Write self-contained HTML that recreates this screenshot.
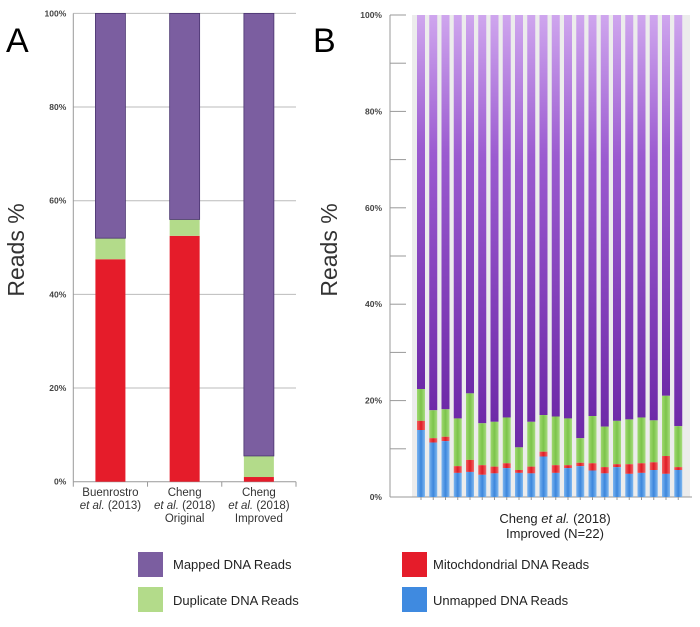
<!DOCTYPE html>
<html><head><meta charset="utf-8"><style>
body{margin:0;background:#fff;width:700px;height:622px;overflow:hidden;font-family:"Liberation Sans",sans-serif}
</style></head><body>
<svg id="c" width="700" height="622" xmlns="http://www.w3.org/2000/svg">
<defs>
<linearGradient id="gp" x1="0" y1="0" x2="0" y2="1"><stop offset="0" stop-color="#cfa6ee"/><stop offset="0.35" stop-color="#9b5bd0"/><stop offset="1" stop-color="#6e2aa8"/></linearGradient>
<linearGradient id="gg" x1="0" y1="0" x2="1" y2="0"><stop offset="0" stop-color="#9fd870"/><stop offset="0.5" stop-color="#7cc44a"/><stop offset="1" stop-color="#a8dc80"/></linearGradient>
<linearGradient id="gb" x1="0" y1="0" x2="1" y2="0"><stop offset="0" stop-color="#7ab4f0"/><stop offset="0.5" stop-color="#3c86dc"/><stop offset="1" stop-color="#80b8f0"/></linearGradient>
<linearGradient id="gr" x1="0" y1="0" x2="1" y2="0"><stop offset="0" stop-color="#f26060"/><stop offset="0.5" stop-color="#e01b24"/><stop offset="1" stop-color="#f06868"/></linearGradient>
</defs>
<text x="6" y="52" font-size="34">A</text>
<text x="313" y="52" font-size="34">B</text>
<text transform="translate(24,250) rotate(-90)" text-anchor="middle" font-size="23" fill="#333">Reads %</text>
<text transform="translate(337,250) rotate(-90)" text-anchor="middle" font-size="23" fill="#333">Reads %</text>
<g id="ga"></g><g id="gbp"></g>
<g font-size="13" fill="#222">
<rect x="138" y="552" width="25" height="25" fill="#7b5ea0"/>
<text x="173" y="569">Mapped DNA Reads</text>
<rect x="138" y="587" width="25" height="25" fill="#b3db8a"/>
<text x="173" y="605">Duplicate DNA Reads</text>
<rect x="402" y="552" width="25" height="25" fill="#e51c2a"/>
<text x="433" y="569">Mitochdondrial DNA Reads</text>
<rect x="402" y="587" width="25" height="25" fill="#3f8ae0"/>
<text x="433" y="605">Unmapped DNA Reads</text>
</g>
</svg>
<script>
const aCategories=[["Buenrostro","et al. (2013)",""],["Cheng","et al. (2018)","Original"],["Cheng","et al. (2018)","Improved"]];
const aMito=[47.5,52.5,1];
const aDup=[4.5,3.5,4.5];
const aMapped=[48,44,94.5];
const aTicks=["0%","20%","40%","60%","80%","100%"];
const bUnmapped=[13.9,11.3,11.6,5.0,5.2,4.6,4.9,6.0,5.0,4.9,8.4,5.0,6.0,6.4,5.5,4.9,6.2,4.8,5.0,5.6,4.8,5.6];
const bMito=[1.9,0.9,0.9,1.4,2.5,2.0,1.4,1.0,0.6,1.4,1.0,1.6,0.6,0.7,1.5,1.3,0.6,2.0,2.0,1.6,3.7,0.6];
const bDup=[6.6,5.8,5.7,9.9,13.8,8.7,9.3,9.5,4.7,9.3,7.6,10.1,9.7,5.1,9.8,8.4,9.0,9.3,9.5,8.7,12.5,8.5];
const bTicks=["0%","20%","40%","60%","80%","100%"];
const NS="http://www.w3.org/2000/svg";
function mk(p,t,a){const e=document.createElementNS(NS,t);for(const k in a)e.setAttribute(k,a[k]);p.appendChild(e);return e;}
// Panel A
const ga=document.getElementById('ga');
const ay=v=>481.7-v*4.683;
const ax0=73.3,ax1=296,aw=(ax1-ax0)/3;
aTicks.forEach((t,i)=>{const v=i*20;
 const l=mk(ga,'line',{x1:ax0,x2:ax1,y1:ay(v),y2:ay(v),stroke:i==0?'#999':'#bbb','stroke-width':1});
 
 const tx=mk(ga,'text',{x:ax0-7,y:ay(v)+3,'text-anchor':'end','font-size':8.5,fill:'#444','font-weight':'bold'});tx.textContent=t;
 });
const av=mk(ga,'line',{x1:ax0,x2:ax0,y1:ay(100),y2:ay(0),stroke:'#999'});

for(let i=0;i<=3;i++){const t=mk(ga,'line',{x1:ax0+i*aw,x2:ax0+i*aw,y1:ay(0),y2:ay(0)+5,stroke:'#999'});
 }
aCategories.forEach((c,i)=>{const cx=ax0+aw*(i+0.5),x=cx-15,w=30;
 const r1=mk(ga,'rect',{x:x,y:ay(aMito[i]),width:w,height:ay(0)-ay(aMito[i]),fill:'#e51c2a'});
 
 const r2=mk(ga,'rect',{x:x,y:ay(aMito[i]+aDup[i]),width:w,height:ay(aMito[i])-ay(aMito[i]+aDup[i]),fill:'#b3db8a'});
 
 const s=aMito[i]+aDup[i];
 const r3=mk(ga,'rect',{x:x,y:ay(s+aMapped[i]),width:w,height:ay(s)-ay(s+aMapped[i]),fill:'#7b5ea0',stroke:'#4a3470','stroke-width':0.8});
 
 c.forEach((ln,j)=>{if(!ln)return;const t=mk(ga,'text',{x:cx,y:496+j*13,'text-anchor':'middle','font-size':11.5,fill:'#333'});
  if(ln.startsWith('et al.')){const s1=mk(t,'tspan',{'font-style':'italic'});s1.textContent='et al.';const s2=mk(t,'tspan',{});s2.textContent=ln.slice(6);}
  else t.textContent=ln;
  });
});
// Panel B
const gb=document.getElementById('gbp');
const by=v=>497-v*4.82;
const bx0=390,bfirst=421,pitch=12.25,bw=8;
for(let i=0;i<=10;i++){const v=i*10;
 const l=mk(gb,'line',{x1:bx0,x2:bx0+16,y1:by(v),y2:by(v),stroke:'#999'});
 }
bTicks.forEach((t,i)=>{const tx=mk(gb,'text',{x:bx0-8,y:by(i*20)+3,'text-anchor':'end','font-size':8.5,fill:'#444','font-weight':'bold'});tx.textContent=t;
 });
const bv=mk(gb,'line',{x1:bx0,x2:bx0,y1:by(100),y2:by(0),stroke:'#999'});

const bbg=mk(gb,'rect',{x:412,y:by(100),width:278,height:by(0)-by(100),fill:'#ececec'});

const bh=mk(gb,'line',{x1:bx0,x2:692,y1:by(0),y2:by(0),stroke:'#999'});

bUnmapped.forEach((u,i)=>{const x=bfirst+i*pitch-bw/2;const m=bMito[i],d=bDup[i];
 const p=mk(gb,'rect',{x:x,y:by(100),width:bw,height:by(u+m+d)-by(100),fill:'url(#gp)'});
 
 const g=mk(gb,'rect',{x:x,y:by(u+m+d),width:bw,height:by(u+m)-by(u+m+d),fill:'url(#gg)'});
 
 const r=mk(gb,'rect',{x:x,y:by(u+m),width:bw,height:by(u)-by(u+m),fill:'url(#gr)'});
 
 const b=mk(gb,'rect',{x:x,y:by(u),width:bw,height:by(0)-by(u),fill:'url(#gb)'});
 
 const tk=mk(gb,'line',{x1:x+bw/2,x2:x+bw/2,y1:by(0),y2:by(0)+3,stroke:'#999'});
 });
const t1=mk(gb,'text',{x:555,y:523,'text-anchor':'middle','font-size':13,fill:'#222'});
mk(t1,'tspan',{}).textContent='Cheng ';mk(t1,'tspan',{'font-style':'italic'}).textContent='et al.';mk(t1,'tspan',{}).textContent=' (2018)';

const t2=mk(gb,'text',{x:555,y:538,'text-anchor':'middle','font-size':13,fill:'#222'});t2.textContent='Improved (N=22)';

</script>
</body></html>
